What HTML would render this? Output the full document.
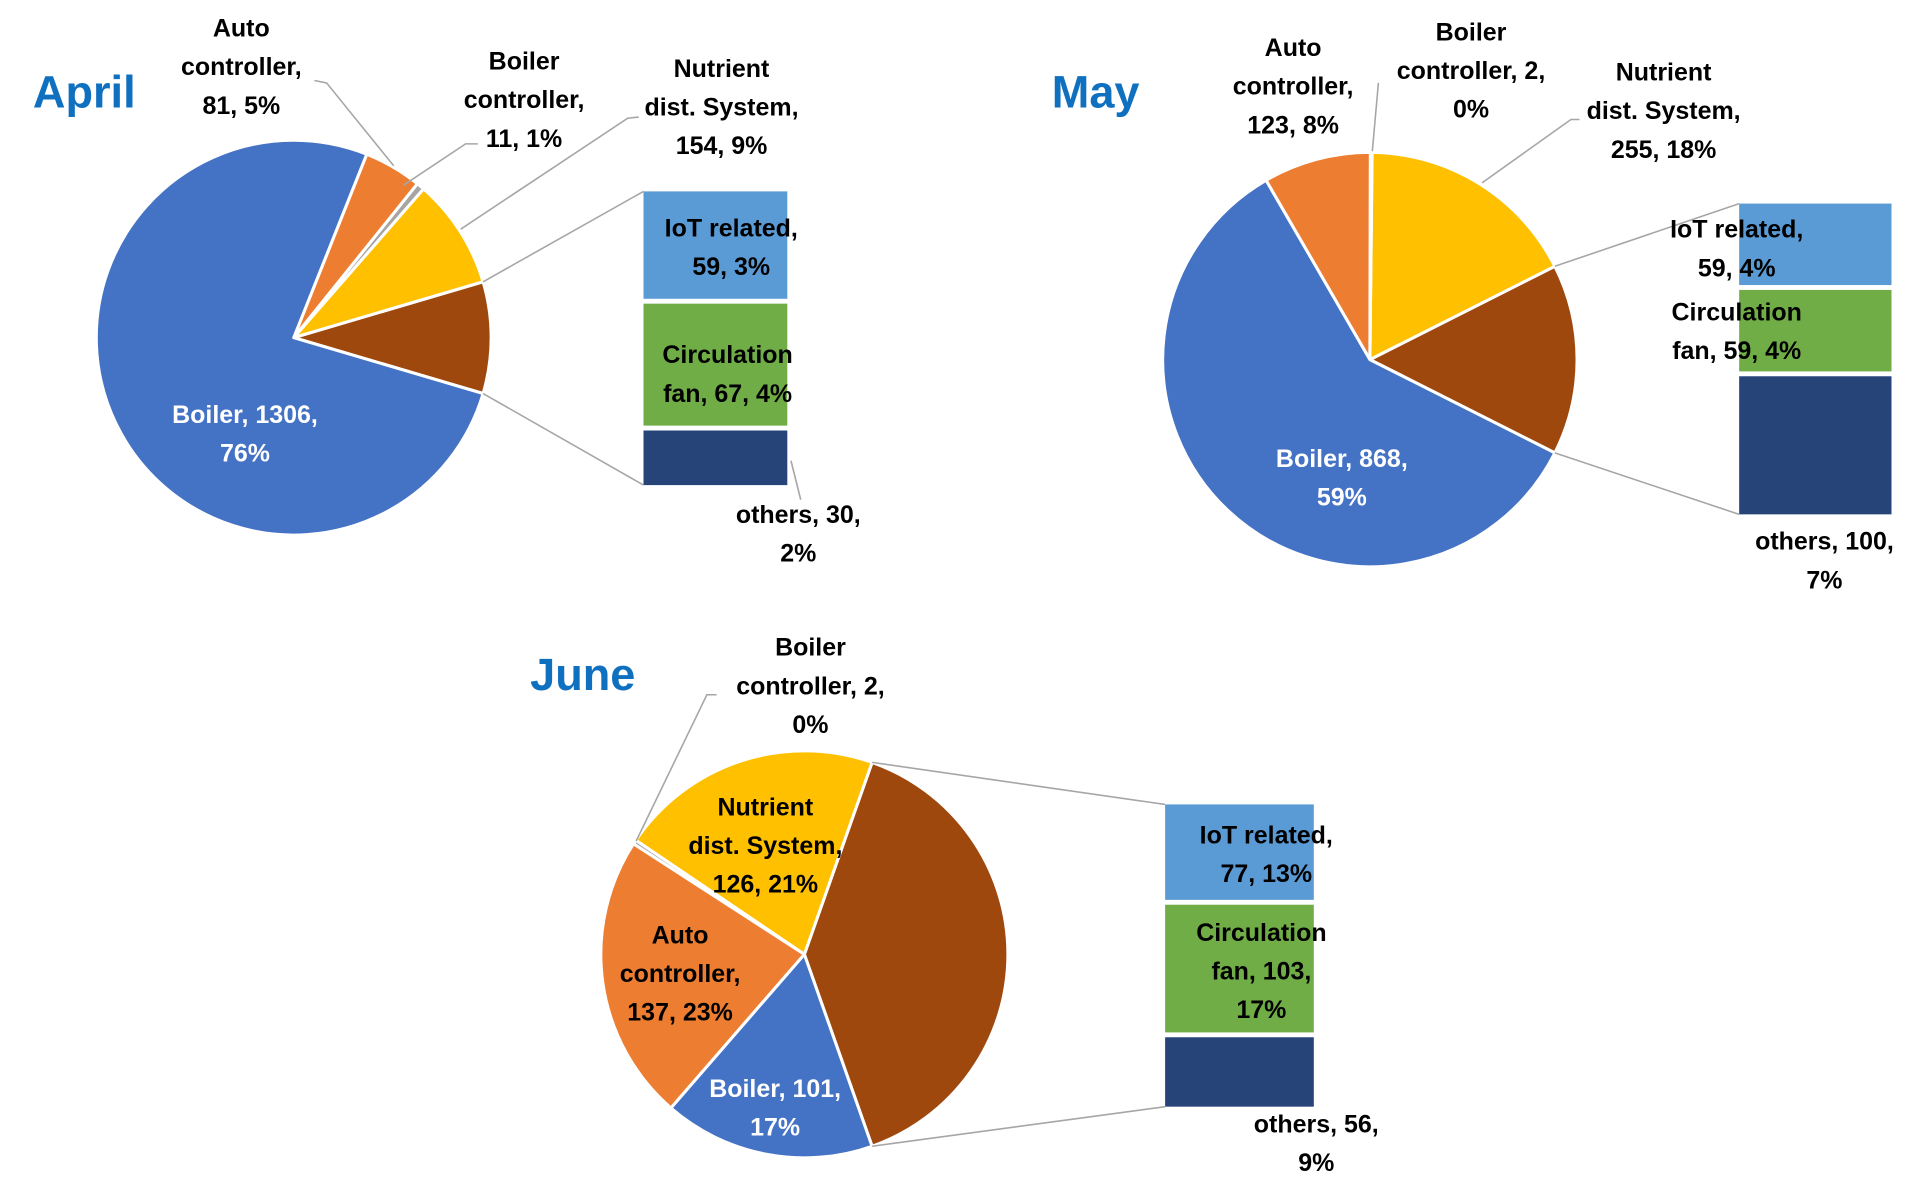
<!DOCTYPE html>
<html><head><meta charset="utf-8"><style>
html,body{margin:0;padding:0;background:#fff;}
svg{display:block;}
text{font-family:"Liberation Sans",sans-serif;font-weight:bold;font-size:20.5px;text-anchor:middle;fill:#000;}
.title{font-size:37px;fill:#1070C0;text-anchor:start;}
.w{fill:#fff;}
</style></head><body>
<svg id="chart" width="1911" height="1203" viewBox="0 0 1568 987" xmlns="http://www.w3.org/2000/svg">
<g id="layer"></g>
</svg>
<script>
// Data
const categories = ["Boiler","Auto controller","Boiler controller","Nutrient dist. System","IoT related","Circulation fan","others"];
const aprilValues = [1306,81,11,154,59,67,30];
const mayValues = [868,123,2,255,59,59,100];
const juneValues = [101,137,2,126,77,103,56];
const aprilPct = [76,5,1,9,3,4,2];
const mayPct = [59,8,0,18,4,4,7];
const junePct = [17,23,0,21,13,17,9];
const monthNames = ["April","May","June"];

const colors = ["#4472C4","#ED7D31","#A5A5A5","#FFC000","#5B9BD5","#70AD47","#264478"];
const otherColor = "#9E480E";
const NS = "http://www.w3.org/2000/svg";
const layer = document.getElementById('layer');

function mk(tag, attrs, parent){
  const e = document.createElementNS(NS, tag);
  for (const k in attrs) e.setAttribute(k, attrs[k]);
  (parent||layer).appendChild(e);
  return e;
}
function pt(cx,cy,r,a){const t=a*Math.PI/180;return [cx+r*Math.cos(t),cy+r*Math.sin(t)];}
function arcPath(cx,cy,r,a0,a1){
  const p0=pt(cx,cy,r,a0),p1=pt(cx,cy,r,a1);
  const large=Math.abs(a1-a0)>180?1:0;
  const sweep=a1>a0?1:0;
  return `M${cx},${cy}L${p0[0]},${p0[1]}A${r},${r} 0 ${large} ${sweep} ${p1[0]},${p1[1]}Z`;
}

function drawChart(cfg, values, pcts){
  const g = mk('g',{});
  
  
  const total = values.reduce((a,b)=>a+b,0);
  const other = values[4]+values[5]+values[6];
  const oDeg = other/total*360;
  const slices = [];
  slices.push({name:'other-aggregate', a0:-oDeg/2, a1:oDeg/2, color:otherColor});
  let a = -oDeg/2;
  const ccwOrder = [3,2,1,0];
  for (const i of ccwOrder){
    const d = values[i]/total*360;
    slices.push({name:categories[i], a0:a-d, a1:a, color:colors[i]});
    a -= d;
  }
  for (const s of slices){
    const p = mk('path',{d:arcPath(cfg.cx,cfg.cy,cfg.r,s.a0,s.a1),fill:s.color,stroke:'#fff','stroke-width':2.5,'stroke-linejoin':'round'},g);
    
    
  }
  const gap = 4;
  const H = cfg.by1 - cfg.by0 - gap*2;
  let y = cfg.by0;
  for (let i=4;i<7;i++){
    const h = values[i]/other*H;
    const r = mk('rect',{x:cfg.bx0,y:y,width:cfg.bx1-cfg.bx0,height:h,fill:colors[i]},g);
    
    
    y += h + gap;
  }
  const pTop = pt(cfg.cx,cfg.cy,cfg.r,-oDeg/2), pBot = pt(cfg.cx,cfg.cy,cfg.r,oDeg/2);
  const c1 = mk('line',{x1:pTop[0],y1:pTop[1],x2:cfg.bx0,y2:cfg.by0,stroke:'#A6A6A6','stroke-width':1.3},g);
  
  
  const c2 = mk('line',{x1:pBot[0],y1:pBot[1],x2:cfg.bx0,y2:cfg.by1,stroke:'#A6A6A6','stroke-width':1.3},g);
  
  
  for (const L of cfg.leaders){
    const l = mk('polyline',{points:L.pts,fill:'none',stroke:'#A6A6A6','stroke-width':1.3},g);
    
    
  }
  const t = mk('text',{x:cfg.tx,y:cfg.ty,'class':'title'},g);
  t.textContent = cfg.title;
  
  
  for (const lab of cfg.labels){
    const i = lab.i;
    const pct = pcts[i] + '%';
    const lines = lab.lines.map(s=>s.replace('{v}',values[i]).replace('{p}',pct));
    const tx = mk('text',{x:lab.x,'class':lab.white?'w':''},g);
    
    
    lines.forEach((s,k)=>{
      const sp = mk('tspan',{x:lab.x,y:lab.y+k*31.7},tx);
      sp.textContent = s;
    });
  }
}

drawChart({id:'april',title:monthNames[0],tx:27,ty:88,cx:241,cy:277,r:162,bx0:528,bx1:646,by0:157,by1:398,
  leaders:[{pts:'258,66 268,68 323,136'},{pts:'392,118 382,118 331,152'},{pts:'524,96 515,97 378,188'},{pts:'649,378 657,410'}],
  labels:[
    {i:1,x:198,y:30,lines:['Auto','controller,','{v}, {p}']},
    {i:2,x:430,y:57,lines:['Boiler','controller,','{v}, {p}']},
    {i:3,x:592,y:63,lines:['Nutrient','dist. System,','{v}, {p}']},
    {i:4,x:600,y:194,lines:['IoT related,','{v}, {p}']},
    {i:5,x:597,y:298,lines:['Circulation','fan, {v}, {p}']},
    {i:6,x:655,y:429,lines:['others, {v},','{p}']},
    {i:0,x:201,y:347,white:true,lines:['Boiler, {v},','{p}']}
  ]}, aprilValues, aprilPct);

drawChart({id:'may',title:monthNames[1],tx:863,ty:88,cx:1124,cy:295,r:170,bx0:1427,bx1:1552,by0:167,by1:422,
  leaders:[{pts:'1131,68 1126,124'},{pts:'1296,98 1289,98 1216,150'}],
  labels:[
    {i:1,x:1061,y:46,lines:['Auto','controller,','{v}, {p}']},
    {i:2,x:1207,y:33,lines:['Boiler','controller, {v},','{p}']},
    {i:3,x:1365,y:66,lines:['Nutrient','dist. System,','{v}, {p}']},
    {i:4,x:1425,y:195,lines:['IoT related,','{v}, {p}']},
    {i:5,x:1425,y:263,lines:['Circulation','fan, {v}, {p}']},
    {i:6,x:1497,y:451,lines:['others, {v},','{p}']},
    {i:0,x:1101,y:383,white:true,lines:['Boiler, {v},','{p}']}
  ]}, mayValues, mayPct);

drawChart({id:'june',title:monthNames[2],tx:435,ty:566,cx:660,cy:783,r:167,bx0:956,bx1:1078,by0:660,by1:908,
  leaders:[{pts:'588,570 580,570 522,690'}],
  labels:[
    {i:2,x:665,y:538,lines:['Boiler','controller, {v},','{p}']},
    {i:3,x:628,y:669,lines:['Nutrient','dist. System,','{v}, {p}']},
    {i:1,x:558,y:774,lines:['Auto','controller,','{v}, {p}']},
    {i:4,x:1039,y:692,lines:['IoT related,','{v}, {p}']},
    {i:5,x:1035,y:772,lines:['Circulation','fan, {v},','{p}']},
    {i:6,x:1080,y:929,lines:['others, {v},','{p}']},
    {i:0,x:636,y:900,white:true,lines:['Boiler, {v},','{p}']}
  ]}, juneValues, junePct);
</script>
</body></html>
